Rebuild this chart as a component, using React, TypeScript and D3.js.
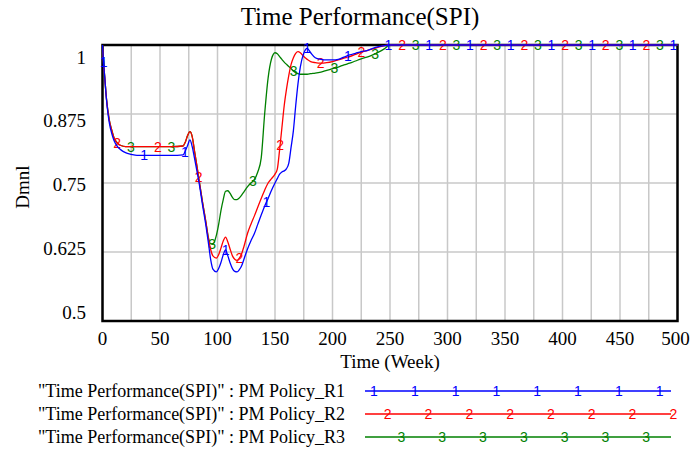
import React from "react";
import * as d3 from "d3";

const weeks = [0,1,2,3,4,5,6,8,10,13,16,20,25,30,40,50,60,70,72,74,76,78,80,82,84,87,90,92,94,96,99,101,103,105,107,109,111,113,115,117,119,121,123,126,129,132,135,138,141,144,147,150,152,154,156,158,160,162,164,166,168,170,172,175,178,181,185,190,195,200,205,210,215,220,225,230,235,240,245,250,300,350,400,450,500];

const policyR1 = [1.0,0.965,0.94,0.912,0.89,0.872,0.858,
  0.84,0.827,0.816,0.81,0.805,0.802,0.80,
  0.80,0.80,0.80,0.801,
  0.808,0.818,0.828,0.816,0.795,0.773,0.75,
  0.71,0.672,0.643,0.612,0.594,0.589,
  0.595,0.606,0.62,0.629,0.618,0.605,0.595,0.59,0.589,0.593,0.6,0.612,
  0.63,0.645,0.658,0.675,0.692,0.708,0.722,0.737,0.75,
  0.758,0.766,0.77,0.772,0.776,0.786,0.815,0.845,0.89,0.93,0.96,
  0.985,0.994,0.986,0.977,0.974,0.973,0.973,
  0.974,0.978,0.982,0.985,0.988,0.99,0.994,0.997,0.999,1.0,
  1,1,1,1,1];

const policyR2 = [1.0,0.965,0.94,0.913,0.892,0.876,0.863,
  0.846,0.832,0.822,0.818,0.816,0.816,0.816,
  0.816,0.816,0.816,0.817,
  0.824,0.836,0.843,0.834,0.808,0.782,0.755,
  0.715,0.678,0.65,0.63,0.618,0.614,
  0.62,0.632,0.645,0.652,0.643,0.63,0.618,0.612,0.61,0.614,0.622,0.635,
  0.658,0.675,0.69,0.706,0.722,0.737,0.75,0.758,0.766,
  0.775,0.81,0.85,0.89,0.92,0.945,0.965,0.977,0.985,0.988,0.986,
  0.979,0.974,0.97,0.968,0.967,0.968,0.97,
  0.973,0.976,0.979,0.983,0.987,0.99,0.993,0.996,0.999,1.0,
  1,1,1,1,1];

const policyR3 = [1.0,0.965,0.94,0.913,0.892,0.876,0.863,
  0.846,0.832,0.822,0.818,0.816,0.816,0.816,
  0.816,0.816,0.816,0.817,
  0.824,0.836,0.843,0.834,0.808,0.782,0.755,
  0.715,0.678,0.652,0.64,0.639,0.655,
  0.675,0.7,0.72,0.735,0.736,0.731,0.724,0.72,0.72,0.723,0.728,0.734,
  0.743,0.75,0.756,0.77,0.795,0.875,0.94,0.975,0.986,
  0.984,0.979,0.974,0.969,0.965,0.961,0.957,0.953,0.95,0.948,0.947,
  0.947,0.947,0.948,0.949,0.951,0.954,0.957,
  0.96,0.964,0.967,0.971,0.975,0.978,0.982,0.987,0.993,1.0,
  1,1,1,1,1];

const seriesNames = [
  '"Time Performance(SPI)" : PM Policy_R1',
  '"Time Performance(SPI)" : PM Policy_R2',
  '"Time Performance(SPI)" : PM Policy_R3',
];
const seriesLabels = ["1", "2", "3"];
const seriesColors = ["#0000ff", "#ff0000", "#008000"];

const xTicks = [0,50,100,150,200,250,300,350,400,450,500];
const yTicks = [0.5,0.625,0.75,0.875,1];
const yTickLabels = ["0.5","0.625","0.75","0.875","1"];

const title = "Time Performance(SPI)";
const xTitle = "Time (Week)";
const yTitle = "Dmnl";

const W = 693, H = 453;
const L = 102.5, R = 677.5, T = 45, B = 321;
const SERIF = "Liberation Serif";
const SANS = "Liberation Sans";

export default function App() {
  const x = d3.scaleLinear().domain([0, 500]).range([L, R]);
  const y = d3.scaleLinear().domain([0.5, 1]).range([B, T]);
  const yLabel = d3.scaleLinear().domain([0.5, 1]).range([312, 57]);
  const data = [policyR1, policyR2, policyR3];
  const line = d3.line<number>().x((_, i) => x(weeks[i])).y(d => y(d)).curve(d3.curveMonotoneX);
  const gridX = d3.range(0, 501, 25);
  const gridY = [0.625, 0.75, 0.875];
  const interp = (vals: number[], t: number) => {
    const i = Math.max(1, d3.bisectLeft(weeks, t));
    const t0 = weeks[i - 1], t1 = weeks[i];
    const f = t1 === t0 ? 0 : (t - t0) / (t1 - t0);
    return vals[i - 1] + f * (vals[i] - vals[i - 1]);
  };
  const markerStep = 35.4;
  const markerOffset = [0.9, 12.8, 24.6];
  const order = [2, 1, 0];
  const legendY = [391, 414, 437];
  const serif = { fontFamily: SERIF };
  const sans = { fontFamily: SANS };
  return (
    <svg width={W} height={H} style={{ position: "absolute", left: 0, top: 0, background: "#fff" }}>
      <rect x={0} y={0} width={W} height={H} fill="#fff" />
      <text x={360} y={16} style={serif} fontSize={25} textAnchor="middle" dominantBaseline="central" fill="#000">{title}</text>
      {gridX.map(g => (
        <line key={"gx" + g} x1={x(g)} x2={x(g)} y1={T} y2={B} stroke="#c8c8c8" strokeWidth={1.5} />
      ))}
      {gridY.map(g => (
        <line key={"gy" + g} x1={L} x2={R} y1={y(g)} y2={y(g)} stroke="#c8c8c8" strokeWidth={1.5} />
      ))}
      <rect x={L} y={T} width={R - L} height={B - T} fill="none" stroke="#000" strokeWidth={2.5} />
      {xTicks.map(t => (
        <text key={"xt" + t} x={t === 500 ? x(t) - 2 : x(t)} y={338} style={serif} fontSize={19} textAnchor="middle" dominantBaseline="central" fill="#000">{t}</text>
      ))}
      {yTicks.map((v, i) => (
        <text key={"yt" + v} x={86} y={yLabel(v)} style={serif} fontSize={19} textAnchor="end" dominantBaseline="central" fill="#000">{yTickLabels[i]}</text>
      ))}
      <text x={390} y={361} style={serif} fontSize={19} textAnchor="middle" dominantBaseline="central" fill="#000">{xTitle}</text>
      <text transform={`translate(22,187) rotate(-90)`} style={serif} fontSize={19} textAnchor="middle" dominantBaseline="central" fill="#000">{yTitle}</text>
      {order.map(s => {
        const vals = data[s];
        const marks: number[] = [];
        for (let t = markerOffset[s]; t <= 500; t += markerStep) marks.push(t);
        return (
          <g key={"s" + s}>
            <path d={line(vals) || ""} fill="none" stroke={seriesColors[s]} strokeWidth={1.3} />
            {marks.map((t, k) => (
              <text key={k} x={x(t)} y={y(interp(vals, t)) + 5} style={sans} fontSize={14} textAnchor="middle" fill={seriesColors[s]}>{seriesLabels[s]}</text>
            ))}
          </g>
        );
      })}
      {seriesNames.map((name, s) => {
        const lm: number[] = [];
        for (let k = 0; k < 8; k++) lm.push(374 + s * 13.7 + k * 40.8);
        return (
          <g key={"lg" + s}>
            <text x={345} y={legendY[s]} style={serif} fontSize={18} textAnchor="end" dominantBaseline="central" fill="#000">{name}</text>
            <line x1={365} x2={671} y1={legendY[s]} y2={legendY[s]} stroke={seriesColors[s]} strokeWidth={1.3} />
            {lm.filter(m => m <= 676).map((m, k) => (
              <text key={k} x={m} y={legendY[s] + 5} style={sans} fontSize={14} textAnchor="middle" fill={seriesColors[s]}>{seriesLabels[s]}</text>
            ))}
          </g>
        );
      })}
    </svg>
  );
}
